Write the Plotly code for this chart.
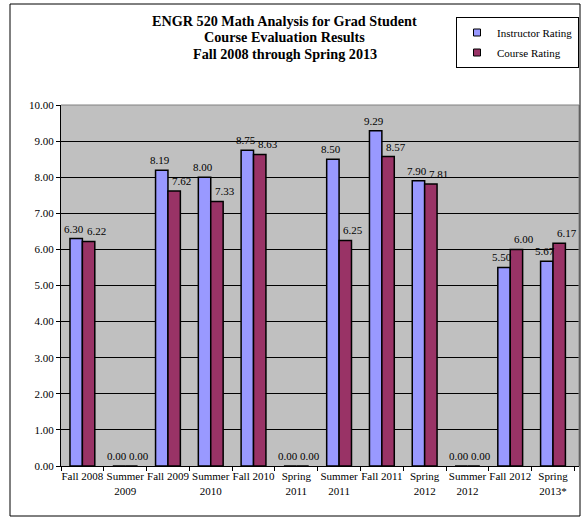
import plotly.graph_objects as go

categories = ["Fall 2008", "Summer<br>2009", "Fall 2009", "Summer<br>2010", "Fall 2010",
              "Spring<br>2011", "Summer<br>2011", "Fall 2011", "Spring<br>2012",
              "Summer<br>2012", "Fall 2012", "Spring<br>2013*"]
instructor_rating = [6.30, 0.00, 8.19, 8.00, 8.75, 0.00, 8.50, 9.29, 7.90, 0.00, 5.50, 5.67]
course_rating = [6.22, 0.00, 7.62, 7.33, 8.63, 0.00, 6.25, 8.57, 7.81, 0.00, 6.00, 6.17]
y_ticks = [0, 1, 2, 3, 4, 5, 6, 7, 8, 9, 10]
title_lines = ["ENGR 520 Math Analysis for Grad Student",
               "Course Evaluation Results",
               "Fall 2008 through Spring 2013"]

FONT = "Liberation Serif, Times New Roman, serif"
BLUE = "#9999FF"
MAROON = "#993366"

fig = go.Figure()
annotations = []
series = [("Instructor Rating", instructor_rating, BLUE, "a", -8),
          ("Course Rating", course_rating, MAROON, "b", 14)]
for name, vals, color, grp, dx in series:
    fig.add_trace(go.Bar(
        x=categories, y=vals, name=name, showlegend=False,
        marker=dict(color=color, line=dict(color="black", width=1.5)),
        hoverinfo="x+y",
    ))
    fig.add_trace(go.Scatter(
        x=[None], y=[None], mode="markers", name=name, legendgroup=grp,
        marker=dict(symbol="square", size=7, color=color, line=dict(color="black", width=1)),
    ))
    for c, v in zip(categories, vals):
        annotations.append(dict(
            x=c, y=v, xref="x", yref="y", text=f"{v:.2f}", showarrow=False,
            xshift=dx, yshift=10, yanchor="middle",
            font=dict(family=FONT, size=11, color="black"),
        ))

# title lines
for i, line in enumerate(title_lines):
    annotations.append(dict(
        x=(284.5 - 61) / 518, y=(466 - (21 + 16.5 * i)) / 361, xref="paper", yref="paper",
        text=f"<b>{line}</b>", showarrow=False, xanchor="center", yanchor="middle",
        font=dict(family=FONT, size=14.2, color="black"),
    ))

fig.update_layout(
    width=581, height=517,
    margin=dict(l=61, r=2, t=105, b=51, autoexpand=False),
    paper_bgcolor="white", plot_bgcolor="#C0C0C0",
    barmode="group", bargap=0.42, bargroupgap=0,
    font=dict(family=FONT, size=11, color="black"),
    annotations=annotations,
    legend=dict(
        x=(456 - 61) / 518, y=(466 - 17) / 361, xanchor="left", yanchor="top",
        bordercolor="black", borderwidth=1, bgcolor="white",
        font=dict(family=FONT, size=11, color="black"),
        tracegroupgap=1,
    ),
    xaxis=dict(
        type="category", showline=True, linecolor="black", linewidth=1,
        ticks="outside", tickson="boundaries", ticklen=4, tickcolor="black",
        tickangle=0, automargin=False,
        showgrid=False, tickfont=dict(family=FONT, size=11, color="black"),
    ),
    yaxis=dict(
        range=[0, 10], tickvals=y_ticks, tickformat=".2f", automargin=False,
        showline=True, linecolor="black", linewidth=1,
        ticks="outside", ticklen=4, tickcolor="black",
        showgrid=True, gridcolor="black", gridwidth=1,
        zeroline=False, tickfont=dict(family=FONT, size=11, color="black"),
    ),
    shapes=[
        dict(type="line", xref="paper", yref="paper", x0=0, x1=1, y0=1, y1=1,
             line=dict(color="#808080", width=1)),
        dict(type="line", xref="paper", yref="paper", x0=1, x1=1, y0=0, y1=1,
             line=dict(color="#808080", width=1)),
        dict(type="rect", xref="paper", yref="paper",
             x0=(10 - 61) / 518, x1=(580 - 61) / 518,
             y0=(466 - 516) / 361, y1=(466 - 4) / 361,
             line=dict(color="black", width=1), fillcolor="rgba(0,0,0,0)"),
    ],
)

fig.write_html("out.html", config={"displayModeBar": False},
               post_script="document.body.style.margin='0';")
